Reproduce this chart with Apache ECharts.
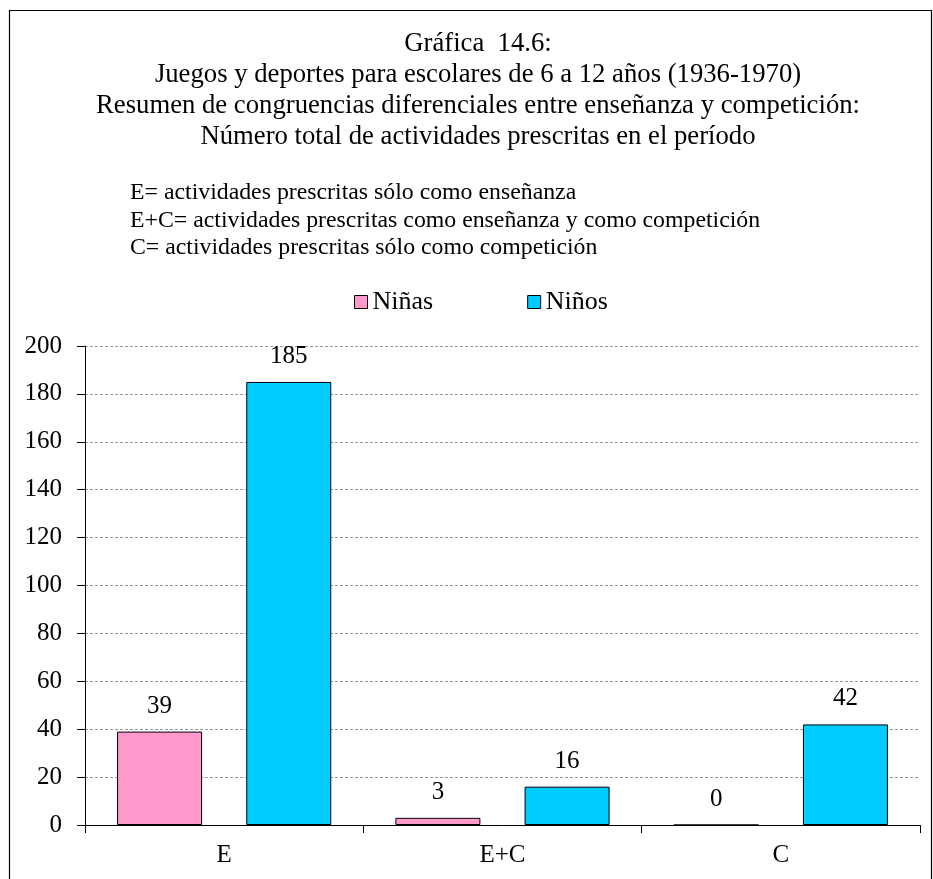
<!DOCTYPE html>
<html><head><meta charset="utf-8">
<script src="https://cdn.jsdelivr.net/npm/echarts@6/dist/echarts.min.js"></script>
<style>html,body{margin:0;padding:0;background:#fff}#c{width:933px;height:879px}</style>
</head><body><div id="c"></div>
<script>
const titleLines = ["Gráfica  14.6:", "Juegos y deportes para escolares de 6 a 12 años (1936-1970)", "Resumen de congruencias diferenciales entre enseñanza y competición:", "Número total de actividades prescritas en el período"];
const noteLines = ["E= actividades prescritas sólo como enseñanza", "E+C= actividades prescritas como enseñanza y como competición", "C= actividades prescritas sólo como competición"];
const categories = ["E", "E+C", "C"];
const ninas = [39, 3, 0];
const ninos = [185, 16, 42];
const seriesNames = ["Niñas", "Niños"];
const yTicks = [0, 20, 40, 60, 80, 100, 120, 140, 160, 180, 200];

const FONT = '"Liberation Serif","Times New Roman",serif';
const chart = echarts.init(document.getElementById('c'));
const graphics = [
  {type:'rect', shape:{x:9.5,y:10.5,width:922,height:880}, style:{fill:'none',stroke:'#000',lineWidth:1.2}, silent:true}
];
titleLines.forEach((t,i)=>graphics.push({type:'text', x:478, y:44+i*31, style:{text:t, font:'26.7px '+FONT, fill:'#000', align:'center', verticalAlign:'middle'}}));
noteLines.forEach((t,i)=>graphics.push({type:'text', x:130, y:193+i*27.5, style:{text:t, font:'23.8px '+FONT, fill:'#000', align:'left', verticalAlign:'middle'}}));

const labelCfg = {show:true, position:'top', distance:13, color:'#000', fontFamily:FONT, fontSize:25};
chart.setOption({
  animation:false,
  graphic: graphics,
  legend:{top:284, left:349, itemGap:94, itemWidth:13, itemHeight:13, textStyle:{fontFamily:FONT, fontSize:26, color:'#000'}, data:seriesNames, icon:'rect', itemStyle:{borderColor:'#000', borderWidth:1}},
  grid:{left:85, right:13, top:346, bottom:54, containLabel:false},
  xAxis:{type:'category', data:categories, axisLine:{lineStyle:{color:'#000',width:1}}, axisTick:{show:true, length:8, lineStyle:{color:'#000'}}, axisLabel:{color:'#000', fontFamily:FONT, fontSize:25, margin:18}},
  yAxis:{type:'value', min:yTicks[0], max:yTicks[yTicks.length-1], interval:20, axisLine:{show:true, lineStyle:{color:'#000'}}, axisTick:{show:true, length:8, lineStyle:{color:'#000'}}, axisLabel:{color:'#000', fontFamily:FONT, fontSize:25, margin:23}, splitLine:{lineStyle:{color:'#999', type:[3,2], width:1}}},
  series:[
    {name:seriesNames[0], type:'bar', data:ninas, barWidth:85, barGap:'52%', itemStyle:{color:'#FF99CC', borderColor:'#000', borderWidth:1}, label:labelCfg},
    {name:seriesNames[1], type:'bar', data:ninos, barWidth:85, itemStyle:{color:'#00CCFF', borderColor:'#000', borderWidth:1}, label:labelCfg}
  ]
});
</script></body></html>
